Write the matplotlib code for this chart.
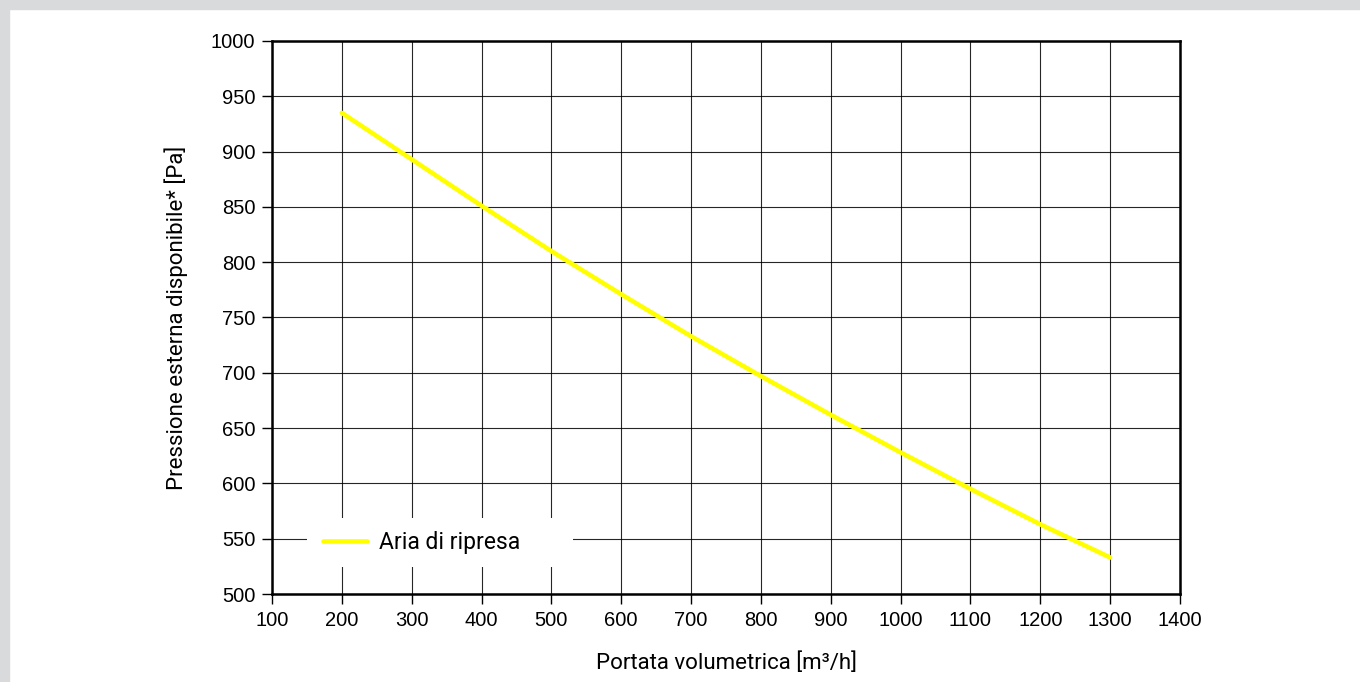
import matplotlib
matplotlib.use("Agg")
import matplotlib.pyplot as plt
from matplotlib.patches import Rectangle

# dati
portata = [200, 300, 400, 500, 600, 700, 800, 900, 1000, 1100, 1200, 1300]
pressione = [935, 893, 851, 810, 771, 733, 697, 662, 628, 595, 563, 533]
serie_label = "Aria di ripresa"
x_ticks = list(range(100, 1401, 100))
y_ticks = list(range(500, 1001, 50))

LABEL_FONT = ["Roboto", "DejaVu Sans"]
TICK_FONT = ["Liberation Sans", "DejaVu Sans"]
GRAY = "#d9dadc"

fig = plt.figure(figsize=(13.6, 6.82), dpi=100)
fig.patch.set_facecolor("white")

# bordo grigio (sopra e a sinistra)
fig.patches.append(Rectangle((0, 1 - 9 / 682), 1, 9 / 682, transform=fig.transFigure,
                             color=GRAY, zorder=0))
fig.patches.append(Rectangle((0, 0), 9 / 1360, 1, transform=fig.transFigure,
                             color=GRAY, zorder=0))

ax = fig.add_axes([272 / 1360, 1 - 594 / 682, 908 / 1360, 553 / 682])
ax.plot(portata, pressione, color="#ffff00", lw=3.3, solid_capstyle="round",
        label=serie_label, zorder=4)

ax.set_xlim(100, 1400)
ax.set_ylim(500, 1000)
ax.set_xticks(x_ticks)
ax.set_yticks(y_ticks)
ax.grid(True, color="black", lw=0.8, alpha=0.85, zorder=1)
ax.set_axisbelow(True)
for s in ax.spines.values():
    s.set_linewidth(1.8)
ax.tick_params(direction="out", length=7, width=1.0, pad=5)
for lab in ax.get_xticklabels() + ax.get_yticklabels():
    lab.set_family(TICK_FONT)
    lab.set_fontsize(14.5)

ax.set_xlabel("Portata volumetrica [m³/h]", family=LABEL_FONT, fontsize=16)
ax.set_ylabel("Pressione esterna disponibile* [Pa]", family=LABEL_FONT, fontsize=16)
ax.xaxis.set_label_coords(0.5, -0.106)
ax.yaxis.set_label_coords(-0.093, 0.5)

# riquadro bianco della legenda (copre la griglia)
ax.add_patch(Rectangle((0.0385, 0.0488), 0.293, 0.0886, transform=ax.transAxes,
                       facecolor="white", edgecolor="none", zorder=2))
leg = ax.legend(loc="center left", bbox_to_anchor=(0.0562, 0.093), frameon=False,
                prop={"family": LABEL_FONT, "size": 16.5}, handlelength=1.92,
                borderpad=0, handletextpad=0.52, borderaxespad=0)
leg.set_zorder(3)

fig.savefig("out.png", dpi=100)
